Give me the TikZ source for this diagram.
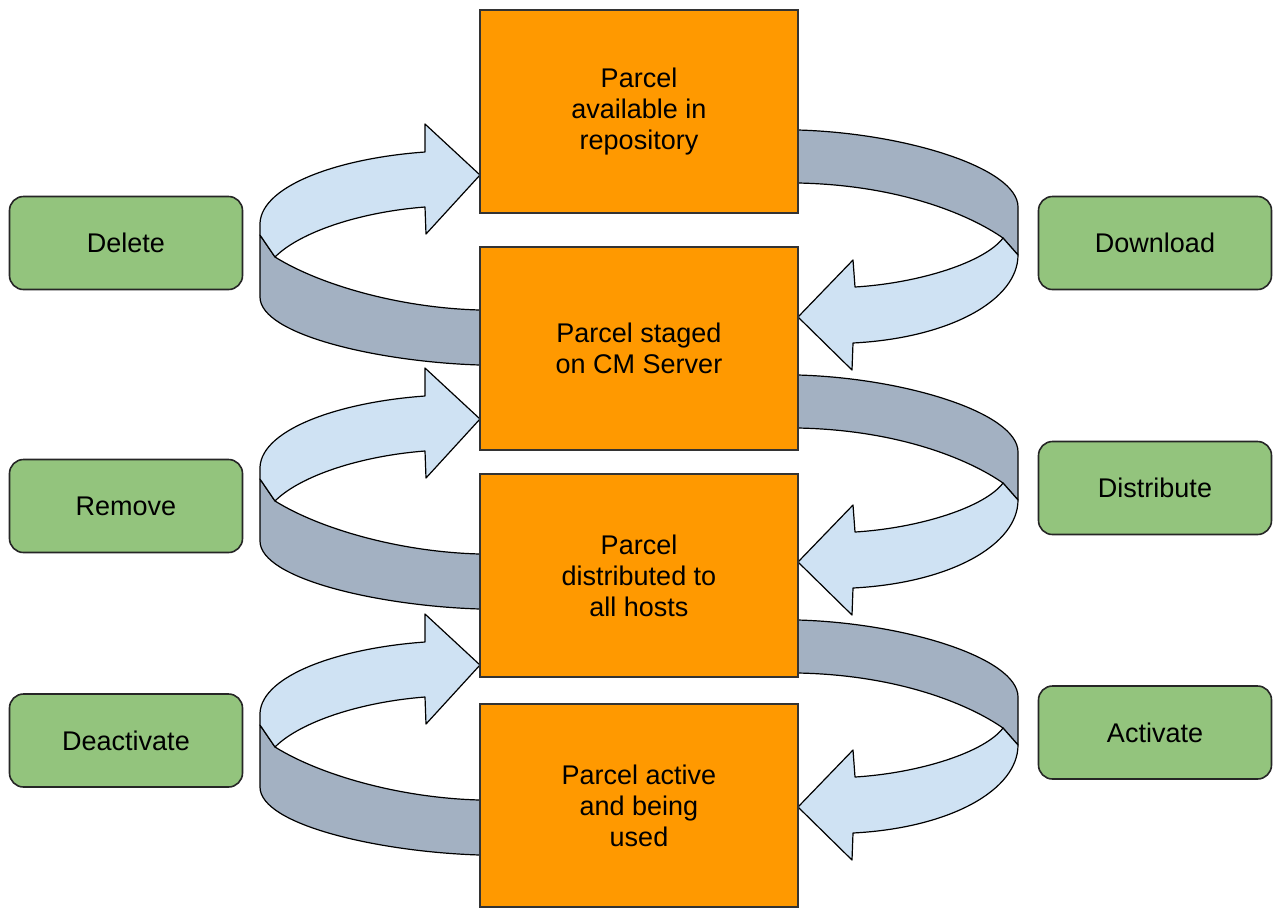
\documentclass[tikz,border=0pt]{standalone}
\usepackage{fontspec}
\setmainfont{Liberation Sans}
\usepackage{xcolor}
\usepackage{tikz}
\definecolor{parcelorange}{HTML}{FF9900}
\definecolor{stepgreen}{HTML}{93C47D}
\definecolor{ribbonfront}{HTML}{CFE2F3}
\definecolor{ribbonback}{HTML}{A3B1C2}
\newcommand\labelfont{\fontsize{13.5}{15.5}\selectfont}
\tikzstyle{state}=[draw=black!80,line width=.8pt,fill=parcelorange,minimum width=159pt,minimum height=101.5pt,inner sep=0pt,align=center,font=\labelfont]
\tikzstyle{action}=[draw=black!85,line width=.8pt,fill=stepgreen,rounded corners=7pt,minimum width=116.5pt,minimum height=46.5pt,inner sep=0pt,font=\labelfont]
\tikzstyle{ribbon}=[draw=black,line width=.6pt,line join=round]
\tikzstyle{front}=[ribbon,fill=ribbonfront]
\tikzstyle{back}=[ribbon,fill=ribbonback]
% ribbon arrow on the right side, going down
\newcommand\loopR[1]{%
  \begin{scope}[shift={(0,#1)}]
    \draw[back] (798,130) .. controls (905,133) and (1018,168) .. (1018,207) -- (1018,255) -- (1003,238)
      .. controls (970,215) and (900,185) .. (798,183) -- cycle;
    \draw[front] (1003,238) -- (1018,255) .. controls (1018,300) and (950,338) .. (853,343) -- (852,370) -- (798,317)
      -- (853,260) -- (855,287) .. controls (920,283) and (985,262) .. (1003,238) -- cycle;
  \end{scope}}
% ribbon arrow on the left side, going up
\newcommand\loopL[1]{%
  \begin{scope}[shift={(0,#1)}]
    \draw[back] (260,235) -- (275,257) .. controls (320,285) and (400,308) .. (480,310) -- (480,365)
      .. controls (380,362) and (260,335) .. (260,297) -- cycle;
    \draw[front] (480,175) -- (425,124) -- (425,152) .. controls (340,158) and (262,185) .. (260,223) -- (260,235)
      -- (275,257) .. controls (300,232) and (360,212) .. (425,207) -- (426,234) -- cycle;
  \end{scope}}
\begin{document}
\begin{tikzpicture}[x=.5pt,y=-.5pt]
	\useasboundingbox (0,0) rectangle (1274,912);
	\loopR{0}   \loopR{245} \loopR{490}
	\loopL{0}   \loopL{244} \loopL{490}
	\node[state] (avail)   at (639,111.5) {Parcel\\available in\\repository};
	\node[state] (staged)  at (639,348.5) {Parcel staged\\on CM Server};
	\node[state] (distrib) at (639,575.5) {Parcel\\distributed to\\all hosts};
	\node[state] (active)  at (639,805.5) {Parcel active\\and being\\used};
	\node[action] (del)   at (126,243)    {Delete};
	\node[action] (rem)   at (126,506)    {Remove};
	\node[action] (deact) at (126,740.5)  {Deactivate};
	\node[action] (down)  at (1155,243)   {Download};
	\node[action] (dist)  at (1155,488)   {Distribute};
	\node[action] (act)   at (1155,732.5) {Activate};
\end{tikzpicture}
\end{document}
